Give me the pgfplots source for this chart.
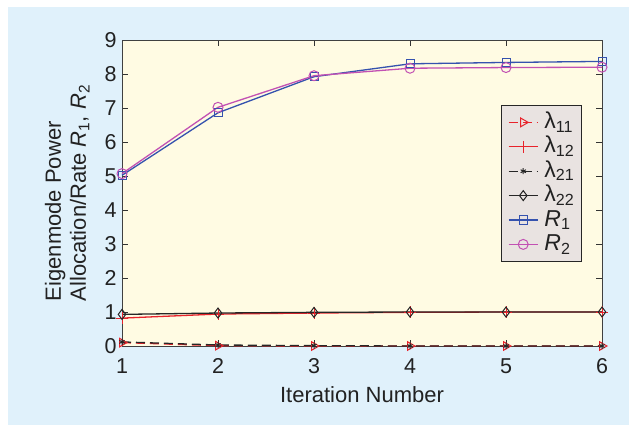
\documentclass[border=0pt]{standalone}
\usepackage{pgfplots}
\pgfplotsset{compat=1.18}
\usepackage{fontspec}
\setmainfont{Liberation Sans}
\definecolor{outerbg}{HTML}{E0F1FB}
\definecolor{plotbg}{HTML}{FFFBE3}
\definecolor{legbg}{HTML}{E9E3E1}
\definecolor{cred}{HTML}{E8232B}
\definecolor{cblue}{HTML}{3552AE}
\definecolor{cmag}{HTML}{C251B3}
\definecolor{txt}{HTML}{222222}
\begin{document}
\begin{tikzpicture}
\fill[white] (0pt,0pt) rectangle (637pt,432pt);
\fill[outerbg] (8pt,7pt) rectangle (629pt,425pt);
\begin{axis}[
  at={(122pt,86pt)}, anchor=south west,
  scale only axis, width=480pt, height=306pt,
  xmin=1, xmax=6, ymin=0, ymax=9,
  xtick={1,2,3,4,5,6}, ytick={0,1,2,3,4,5,6,7,8,9},
  clip=false,
  axis background/.style={fill=plotbg},
  axis line style={draw=black!75, line width=1pt},
  tick style={draw=black!80, line width=0.8pt},
  major tick length=6pt,
  tick align=inside,
  /pgf/number format/assume math mode=true,
  ticklabel style={font=\fontsize{21.5}{23}\selectfont, text=txt},
  xticklabel style={yshift=-9pt},
  yticklabel style={xshift=-2pt},
  label style={font=\fontsize{22}{25}\selectfont, text=txt},
  xlabel={Iteration Number},
  xlabel style={at={(axis description cs:0.5,0)}, anchor=center, yshift=-48.5pt},
  ylabel={Eigenmode Power\\Allocation/Rate \textit{R}\textsubscript{1}, \textit{R}\textsubscript{2}},
  ylabel style={align=left, at={(axis description cs:-0.114,0.5)}, anchor=center},
  legend style={at={(0.9577,0.7876)}, anchor=north east, fill=legbg, draw=black!85, line width=0.8pt,
    font=\fontsize{23}{26}\selectfont, text=txt,
    nodes={inner sep=0pt, text height=17pt, text depth=5pt},
    row sep=2.4pt, column sep=6pt, inner xsep=7pt, inner ysep=6pt},
  legend cell align=left,
  legend image code/.code={\draw[mark repeat=2,mark phase=2] plot coordinates {(0pt,0pt) (14.5pt,0pt) (29pt,0pt)};},
  every axis plot/.append style={line width=1.3pt},
]
\addplot[cred, dash pattern=on 9pt off 5pt, mark=triangle, mark size=5pt, mark options={solid, rotate=-90, line width=1pt}]
  coordinates {(1,0.10) (2,0.01) (3,0.0) (4,0.0) (5,0.0) (6,0.0)};
\addlegendentry{λ\textsubscript{11}}
\addplot[cred, mark=+, mark size=6pt, mark options={line width=1pt}]
  coordinates {(1,0.82) (2,0.94) (3,0.97) (4,0.99) (5,1.0) (6,1.0)};
\addlegendentry{λ\textsubscript{12}}
\addplot[black!85, dash pattern=on 9pt off 5pt, mark=asterisk, mark size=3pt, mark options={solid, line width=1pt}]
  coordinates {(1,0.12) (2,0.03) (3,0.01) (4,0.0) (5,0.0) (6,0.0)};
\addlegendentry{λ\textsubscript{21}}
\addplot[black!85, mark=diamond, mark size=5pt, mark options={line width=1pt}]
  coordinates {(1,0.93) (2,0.97) (3,0.99) (4,1.0) (5,1.0) (6,1.0)};
\addlegendentry{λ\textsubscript{22}}
\addplot[cblue, mark=square, mark size=4pt, mark options={line width=1pt}]
  coordinates {(1,5.02) (2,6.86) (3,7.92) (4,8.30) (5,8.34) (6,8.37)};
\addlegendentry{\textit{R}\textsubscript{1}}
\addplot[cmag, mark=o, mark size=5pt, mark options={line width=1pt}]
  coordinates {(1,5.07) (2,7.02) (3,7.95) (4,8.17) (5,8.19) (6,8.20)};
\addlegendentry{\textit{R}\textsubscript{2}}
\end{axis}
\end{tikzpicture}
\end{document}
